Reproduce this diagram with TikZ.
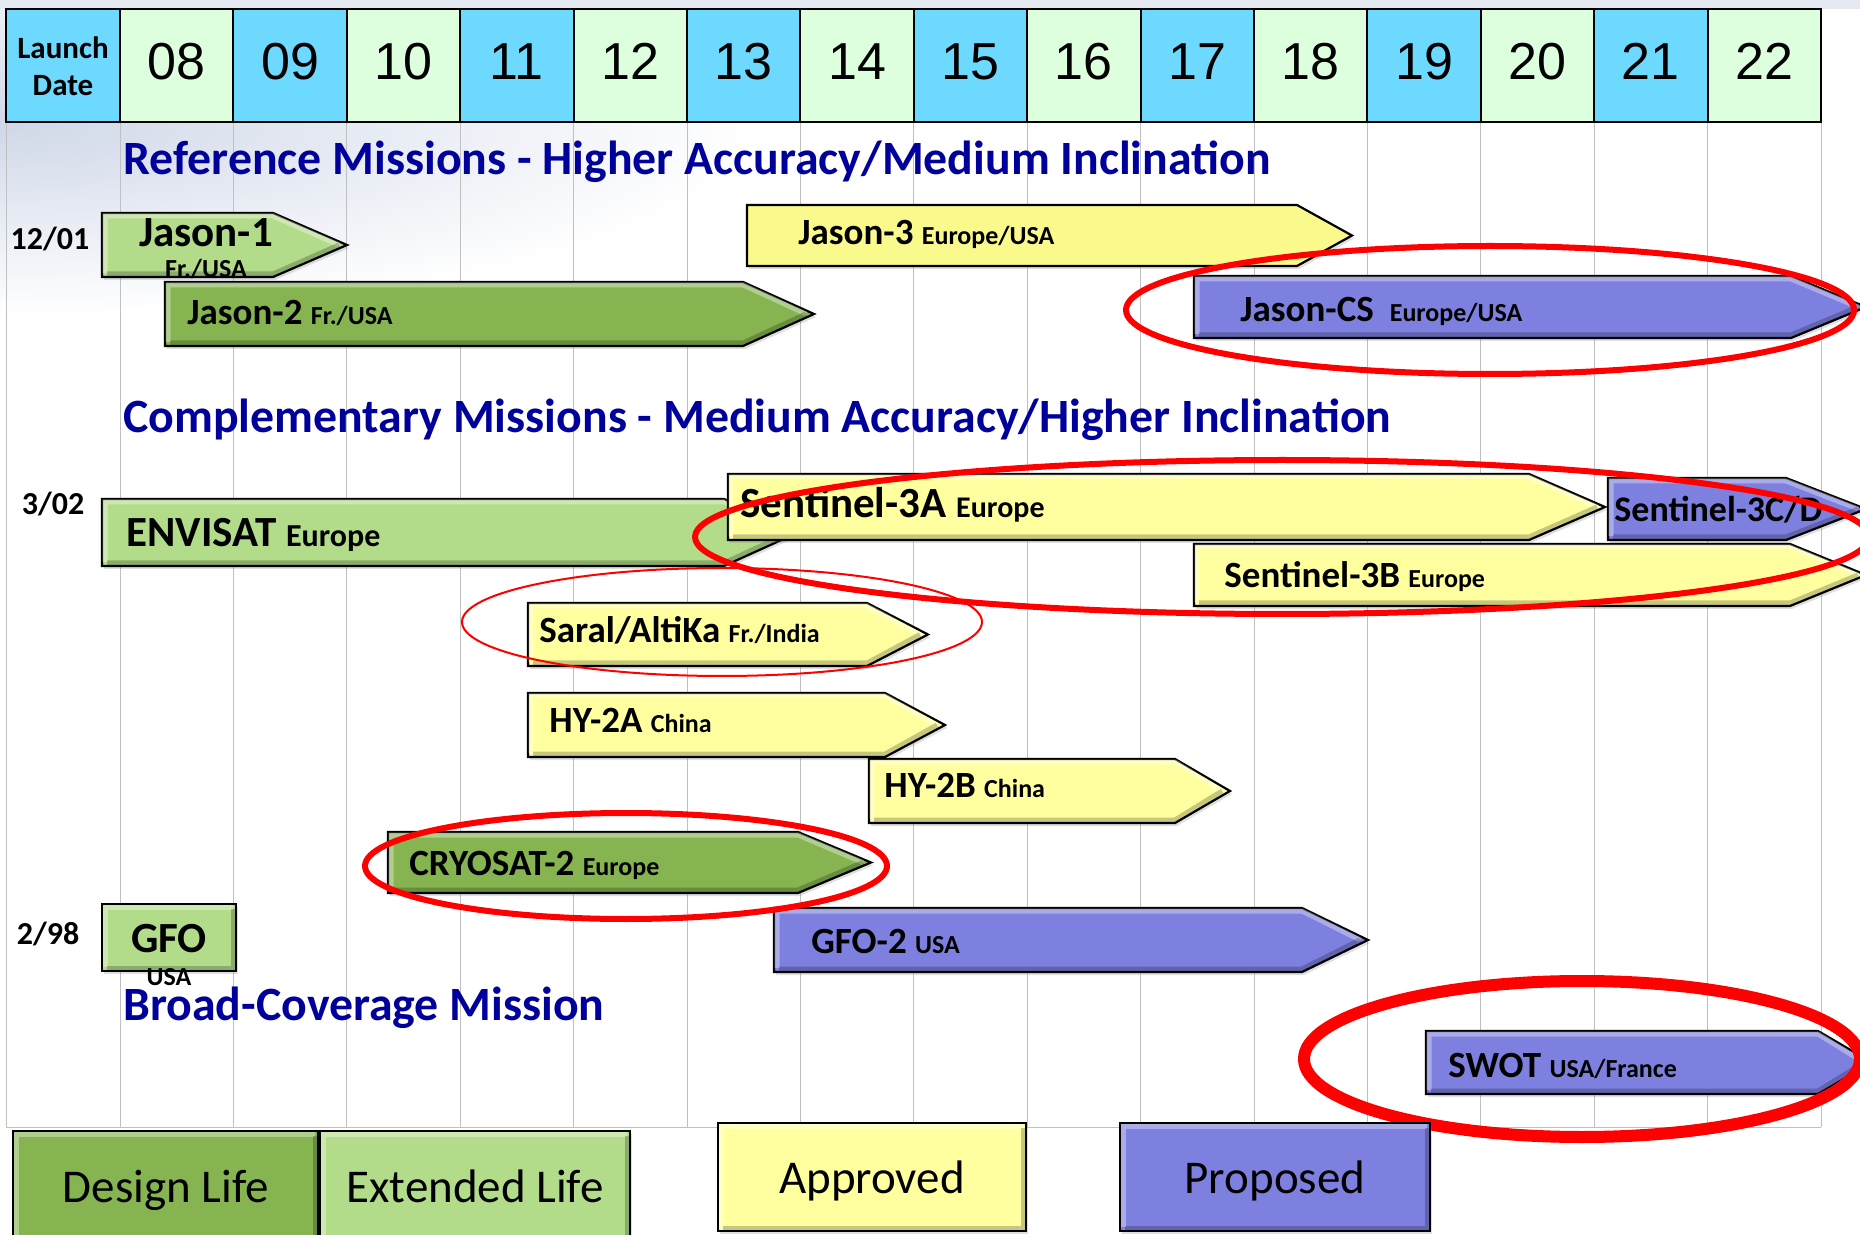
\documentclass[tikz,border=0pt]{standalone}
\usepackage{fontspec}
\setmainfont{Carlito}
\newfontfamily\yearfont{Liberation Sans}
\usetikzlibrary{shadows}

\definecolor{hdcyan}{RGB}{110,217,255}
\definecolor{hdgreen}{RGB}{221,255,221}
\definecolor{designgreen}{RGB}{134,180,80}
\definecolor{extgreen}{RGB}{179,220,138}
\definecolor{apyellow}{RGB}{255,255,160}
\definecolor{jyellow}{RGB}{250,250,140}
\definecolor{propurple}{RGB}{125,128,222}
\definecolor{headblue}{RGB}{0,0,155}
\definecolor{gridgray}{RGB}{192,192,192}
\definecolor{bgblue}{RGB}{208,216,232}

\newcommand\ctry[1]{{\fontsize{13}{15}\selectfont #1}}

% arrow shaped bar: [style]{left}{top}{bottom}{tip start}{tip}
\newcommand\mission[6][]{%
  \filldraw[bar,#1] (#2,#3) -- (#5,#3) -- (#6,{(#3+#4)/2}) -- (#5,#4) -- (#2,#4) -- cycle;
  \draw[white,opacity=.35,line width=2.5pt] (#2+3,#4-4) -- (#2+3,#3+3) -- (#5,#3+3) -- (#6-8,{(#3+#4)/2});
  \draw[black,opacity=.22,line width=2.5pt] (#2+5,#4-3) -- (#5,#4-3) -- (#6-8,{(#3+#4)/2});
}
% flat box: [style]{left}{top}{right}{bottom}
\newcommand\flatbox[5][]{%
  \filldraw[bar,#1] (#2,#3) rectangle (#4,#5);
  \draw[white,opacity=.35,line width=2.5pt] (#2+3,#5-4) -- (#2+3,#3+3) -- (#4-3,#3+3);
  \draw[black,opacity=.22,line width=2.5pt] (#2+5,#5-3) -- (#4-3,#5-3) -- (#4-3,#3+5);
}

\begin{document}
\begin{tikzpicture}[x=0.5pt,y=-0.5pt,
  bar/.style={draw=black,line width=1.1pt,
    drop shadow={shadow xshift=1pt,shadow yshift=-1.5pt,opacity=.25}},
  gridline/.style={draw=gridgray,line width=0.5pt},
  yearlbl/.style={font=\yearfont\fontsize{26}{28}\selectfont,anchor=base,inner sep=0},
  heading/.style={font=\bfseries\fontsize{23.9}{26}\selectfont,text=headblue,anchor=base west,inner sep=0},
  datelbl/.style={font=\bfseries\fontsize{16}{18}\selectfont,anchor=base,inner sep=0},
  lbl/.style={font=\bfseries\fontsize{18.5}{20}\selectfont,anchor=base west,inner sep=0},
  biglbl/.style={lbl,font=\bfseries\fontsize{21.5}{24}\selectfont},
  legend/.style={font=\fontsize{23.5}{26}\selectfont,anchor=base,inner sep=0},
  ring/.style={draw=red,line width=3pt}]

\useasboundingbox (0,0) rectangle (1860,1235);
\fill[white] (0,0) rectangle (1860,1235);

% background tint
\shade[inner color=bgblue,outer color=white] (0,125) ellipse [x radius=760,y radius=190];
\fill[bgblue!55] (0,0) rectangle (1860,9);

% grid
\foreach \k in {0,...,15}
  \draw[gridline] (120+\k*113.4,122) -- (120+\k*113.4,1127);
\draw[gridline] (6,122) -- (6,1127) -- (1821,1127);

% header row
\filldraw[fill=hdcyan,draw=black,line width=1pt] (6,9) rectangle (120,122);
\node[font=\bfseries\fontsize{15.5}{18.5}\selectfont,align=center,inner sep=0] (launch) at (63,66) {Launch\\Date};
\foreach \yr [count=\i from 0] in {08,09,10,11,12,13,14,15,16,17,18,19,20,21,22}{
  \ifodd\i \def\cellcol{hdcyan}\else \def\cellcol{hdgreen}\fi
  \filldraw[fill=\cellcol,draw=black,line width=1pt] (120+\i*113.4,9) rectangle ++(113.4,113);
  \node[yearlbl] (yr\yr) at (176.7+\i*113.4,80) {\yr};
}

% section titles
\node[heading] (refhead) at (123,175) {Reference Missions - Higher Accuracy/Medium Inclination};
\node[heading] (comphead) at (123,433) {Complementary Missions - Medium Accuracy/Higher Inclination};
\node[heading] (broadhead) at (123,1020) {Broad-Coverage Mission};

% launch dates
\node[datelbl] (d1201) at (50,250) {12/01};
\node[datelbl] (d302) at (53,515) {3/02};
\node[datelbl] (d298) at (48,944) {2/98};

% reference missions
\mission[fill=designgreen]{165}{282}{346}{743}{814}
\node[lbl] (jason2) at (187,325) {Jason-2 \ctry{Fr./USA}};
\mission[fill=extgreen]{102}{213}{277}{273}{347}
\node[biglbl,anchor=base] (jason1) at (206,247) {Jason-1};
\node[lbl,anchor=base] (jason1c) at (206,278) {\ctry{Fr./USA}};
\filldraw[bar,fill=jyellow] (747,205) -- (1297,205) -- (1352,235.5) -- (1297,266) -- (747,266) -- cycle;
\node[lbl] (jason3) at (798,245) {Jason-3 \ctry{Europe/USA}};
\mission[fill=propurple]{1194}{276}{338}{1791}{1866}
\node[lbl] (jasoncs) at (1240,322) {Jason-CS\hspace{8pt}\ctry{Europe/USA}};

% complementary missions
\mission[fill=extgreen]{102}{499}{566}{724}{798}
\node[biglbl] (envisat) at (126,547) {ENVISAT {\fontsize{16}{18}\selectfont Europe}};
\mission[fill=apyellow]{728}{474}{540}{1529}{1605}
\node[biglbl] (sentA) at (740,518) {Sentinel-3A {\fontsize{15}{17}\selectfont Europe}};
\mission[fill=propurple]{1608}{478}{540}{1786}{1866}
\node[lbl,font=\bfseries\fontsize{18}{20}\selectfont] (sentCD) at (1614,522) {Sentinel-3C/D};
\mission[fill=apyellow]{1194}{544}{606}{1790}{1866}
\node[lbl] (sentB) at (1224,588) {Sentinel-3B \ctry{Europe}};
\mission[fill=apyellow]{528}{603}{666}{867}{928}
\node[lbl] (saral) at (539,643) {Saral/AltiKa \ctry{Fr./India}};
\mission[fill=apyellow]{528}{693}{757}{885}{945}
\node[lbl] (hy2a) at (549,733) {HY-2A \ctry{China}};
\mission[fill=apyellow]{869}{759}{823}{1175}{1230}
\node[lbl] (hy2b) at (884,798) {HY-2B \ctry{China}};
\mission[fill=designgreen]{388}{832}{893}{798}{871}
\node[lbl] (cryo) at (409,875) {CRYOSAT-2 \ctry{Europe}};
\flatbox[fill=extgreen]{102}{904}{236}{971}
\node[biglbl,anchor=base] (gfo) at (169,952) {GFO};
\node[lbl,anchor=base] (gfoc) at (169,985) {\ctry{USA}};
\mission[fill=propurple]{774}{908}{972}{1302}{1368}
\node[lbl] (gfo2) at (811,953) {GFO-2 \ctry{USA}};

% broad-coverage mission
\mission[fill=propurple]{1426}{1031}{1094}{1818}{1872}
\node[lbl] (swot) at (1448,1077) {SWOT \ctry{USA/France}};

% highlighted missions
\draw[ring] (1490,310) ellipse [x radius=364,y radius=64];
\draw[ring] (1282,537) ellipse [x radius=587,y radius=77];
\draw[ring,line width=1pt] (722,622) ellipse [x radius=260,y radius=54];
\draw[ring] (626,866) ellipse [x radius=261,y radius=53];
\draw[ring,line width=6pt] (1582,1059) ellipse [x radius=278,y radius=78];

% legend
\flatbox[fill=designgreen]{13}{1131}{318}{1245}
\node[legend] (design) at (166,1202) {Design Life};
\flatbox[fill=extgreen]{320}{1131}{630}{1245}
\node[legend] (extended) at (475,1202) {Extended Life};
\flatbox[fill=apyellow]{718}{1123}{1026}{1231}
\node[legend] (approved) at (872,1193) {Approved};
\flatbox[fill=propurple]{1120}{1123}{1430}{1231}
\node[legend] (proposed) at (1275,1193) {Proposed};

\end{tikzpicture}
\end{document}
